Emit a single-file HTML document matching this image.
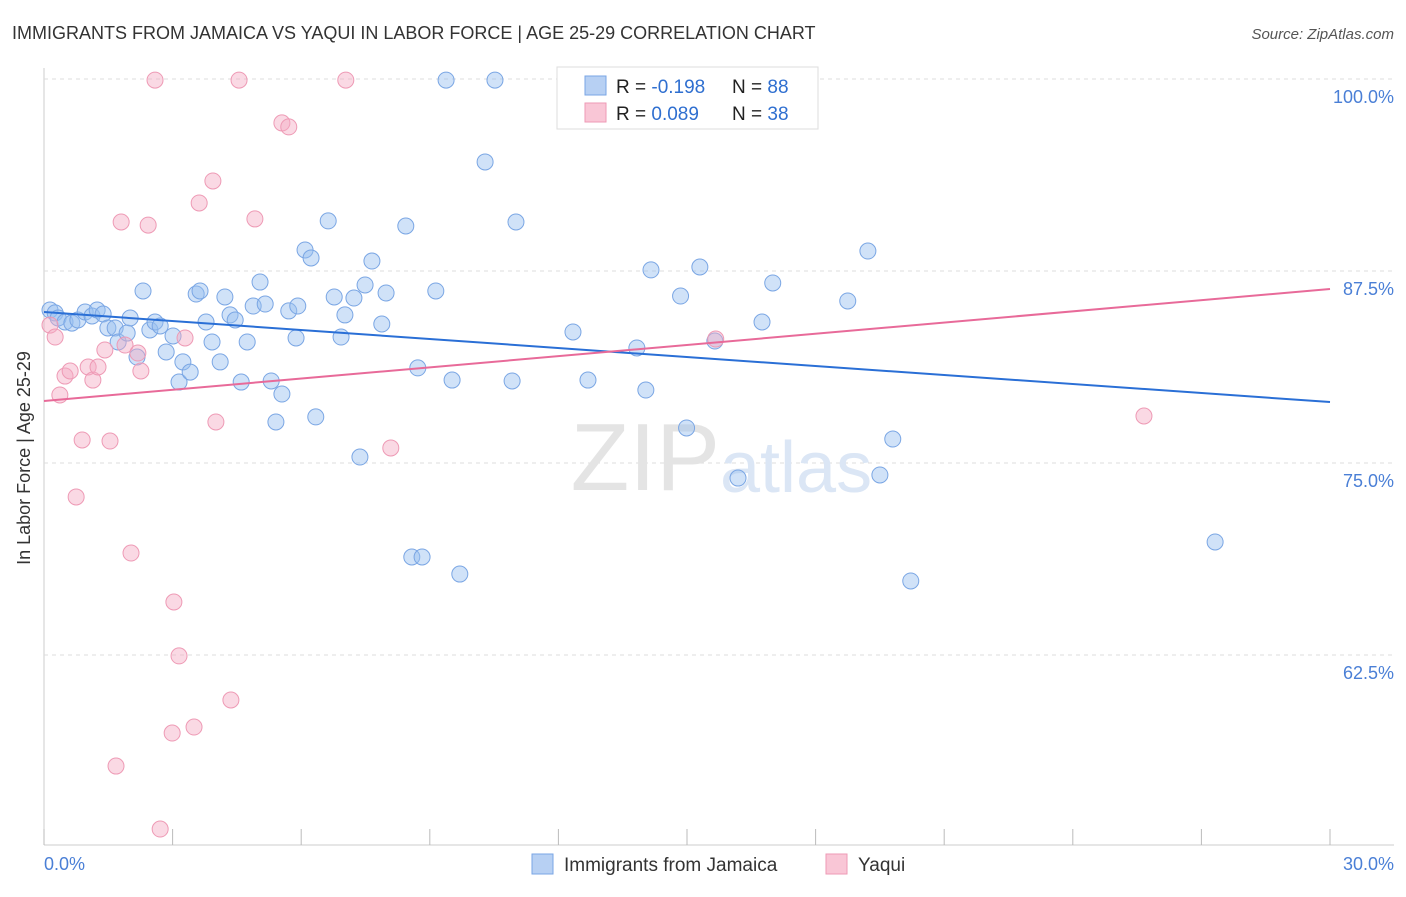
<!DOCTYPE html>
<html><head><meta charset="utf-8"><style>
body{margin:0;background:#fff;font-family:"Liberation Sans",sans-serif;}
svg text{font-family:"Liberation Sans",sans-serif;}
</style></head><body>
<svg id="chart" width="1406" height="892" xmlns="http://www.w3.org/2000/svg">
<text x="12" y="39" font-size="18" fill="#333">IMMIGRANTS FROM JAMAICA VS YAQUI IN LABOR FORCE | AGE 25-29 CORRELATION CHART</text>
<text x="1394" y="39" font-size="15" fill="#555" text-anchor="end" font-style="italic">Source: ZipAtlas.com</text>
<g id="grid"></g>
<text x="720" y="490" font-size="96" fill="#e4e4e4" text-anchor="end" font-family="Liberation Serif">ZIP</text>
<text x="720" y="492" font-size="72" fill="#dbe6f5">atlas</text>
<g id="pts"></g>
<g id="lines"></g>
<text x="30" y="458" font-size="18" fill="#333" text-anchor="middle" transform="rotate(-90 30 458)">In Labor Force | Age 25-29</text>
<text x="44" y="870" font-size="18" fill="#4a7fd6">0.0%</text>
<text x="1394" y="870" font-size="18" fill="#4a7fd6" text-anchor="end">30.0%</text>
<g>
<rect x="557" y="67" width="261" height="62" fill="#fff" stroke="#ddd"/>
<rect x="585" y="76" width="21" height="19" fill="#b7d0f3" stroke="#7aa6e4"/>
<rect x="585" y="103" width="21" height="19" fill="#f9c6d6" stroke="#ee9ab5"/>
<text x="616" y="93" font-size="19" fill="#222">R = <tspan fill="#2f6fd0">-0.198</tspan><tspan x="732">N = </tspan><tspan fill="#2f6fd0">88</tspan></text>
<text x="616" y="120" font-size="19" fill="#222">R = <tspan fill="#2f6fd0"> 0.089</tspan><tspan x="732">N = </tspan><tspan fill="#2f6fd0">38</tspan></text>
</g>
<g>
<rect x="532" y="854" width="21" height="20" fill="#b7d0f3" stroke="#7aa6e4"/>
<text x="564" y="871" font-size="19" fill="#333">Immigrants from Jamaica</text>
<rect x="826" y="854" width="21" height="20" fill="#f9c6d6" stroke="#ee9ab5"/>
<text x="858" y="871" font-size="19" fill="#333">Yaqui</text>
</g>
</svg>
<script>
const blueX=[0.14,0.26,0.33,0.49,0.65,0.79,0.96,1.12,1.24,1.38,1.49,1.66,1.73,1.94,2.01,2.17,2.31,2.47,2.59,2.71,2.85,3.01,3.15,3.24,3.41,3.55,3.64,3.78,3.92,4.11,4.22,4.34,4.46,4.60,4.74,4.88,5.04,5.16,5.30,5.41,5.55,5.71,5.88,5.92,6.09,6.23,6.34,6.63,6.77,6.93,7.02,7.23,7.37,7.49,7.65,7.88,7.98,8.44,8.58,8.72,8.82,9.14,9.38,9.52,9.70,10.29,10.52,10.92,11.01,12.34,12.43,12.69,13.83,14.04,14.16,14.85,14.99,15.30,15.65,16.19,16.75,17.00,18.75,19.22,19.50,19.80,20.22,27.32];
const blueY=[84.96,84.77,84.44,84.18,84.11,84.31,84.83,84.57,84.96,84.70,83.79,83.79,82.88,83.46,84.44,81.90,86.20,83.66,84.18,83.92,82.23,83.27,80.27,81.58,80.92,86.00,86.20,84.18,82.88,81.58,85.81,84.64,84.31,80.27,82.88,85.22,86.78,85.35,80.34,77.67,79.49,84.90,83.14,85.22,88.87,88.35,78.00,90.76,85.81,83.20,84.64,85.74,75.39,86.59,88.15,84.05,86.07,90.43,68.88,81.19,68.88,86.20,99.93,80.40,67.77,94.60,99.93,80.34,90.69,83.53,99.93,80.40,82.49,79.75,87.57,85.87,77.28,87.76,82.94,74.02,84.18,86.72,85.55,88.80,74.22,76.56,67.32,69.86];
const pinkX=[0.14,0.26,0.37,0.49,0.61,0.75,0.89,1.03,1.14,1.26,1.42,1.54,1.68,1.80,1.89,2.03,2.19,2.26,2.43,2.59,2.71,2.99,3.03,3.15,3.29,3.50,3.62,3.94,4.01,4.36,4.55,4.92,5.55,5.71,7.04,8.09,15.67,25.66];
const pinkY=[83.98,83.20,79.43,80.66,80.99,72.79,76.50,81.25,80.40,81.25,82.36,76.43,55.27,90.69,82.68,69.14,82.16,80.99,90.49,99.93,51.17,57.42,65.95,62.44,83.14,57.81,91.93,93.36,77.67,59.57,99.93,90.89,97.14,96.88,99.93,75.98,83.07,78.06];
const blueTrend=[84.83,78.97];
const pinkTrend=[79.04,86.33];
const yTicks=[100,87.5,75,62.5];
const yTickLabels=["100.0%","87.5%","75.0%","62.5%"];
const xTicks=[0,3,6,9,12,15,18,21,24,27,30];

const NS="http://www.w3.org/2000/svg";
const sx=v=>44+v/30*1286;
const sy=v=>79+(100-v)*15.36;
function mk(tag,attrs,parent){const e=document.createElementNS(NS,tag);for(const k in attrs)e.setAttribute(k,attrs[k]);parent.appendChild(e);return e;}
const grid=document.getElementById('grid');
mk('line',{x1:44,y1:68,x2:44,y2:845,stroke:'#ccc'},grid);
mk('line',{x1:44,y1:845,x2:1394,y2:845,stroke:'#ccc'},grid);
yTicks.forEach((t,i)=>{
  const g=mk('line',{x1:44,y1:sy(t),x2:1394,y2:sy(t),stroke:'#ddd','stroke-dasharray':'4 4'},grid);
  
  
  const l=mk('text',{x:1394,y:sy(t)+24,'font-size':18,fill:'#4a7fd6','text-anchor':'end'},grid);
  l.textContent=yTickLabels[i];
  
  
});
xTicks.forEach(t=>{
  const l=mk('line',{x1:sx(t),y1:829,x2:sx(t),y2:845,stroke:'#bbb'},grid);
  
  
});
const pts=document.getElementById('pts');
blueX.forEach((x,i)=>{
  const c=mk('circle',{cx:sx(x),cy:sy(blueY[i]),r:8,fill:'rgba(150,190,240,0.45)',stroke:'#7aa6e4','stroke-width':1},pts);
  
  
});
pinkX.forEach((x,i)=>{
  const c=mk('circle',{cx:sx(x),cy:sy(pinkY[i]),r:8,fill:'rgba(245,170,195,0.45)',stroke:'#ee9ab5','stroke-width':1},pts);
  
  
});
const lines=document.getElementById('lines');
const bl=mk('line',{x1:sx(0),y1:sy(blueTrend[0]),x2:sx(30),y2:sy(blueTrend[1]),stroke:'#2a6fd6','stroke-width':2},lines);


const pl=mk('line',{x1:sx(0),y1:sy(pinkTrend[0]),x2:sx(30),y2:sy(pinkTrend[1]),stroke:'#e86a99','stroke-width':2},lines);


</script>
</body></html>
